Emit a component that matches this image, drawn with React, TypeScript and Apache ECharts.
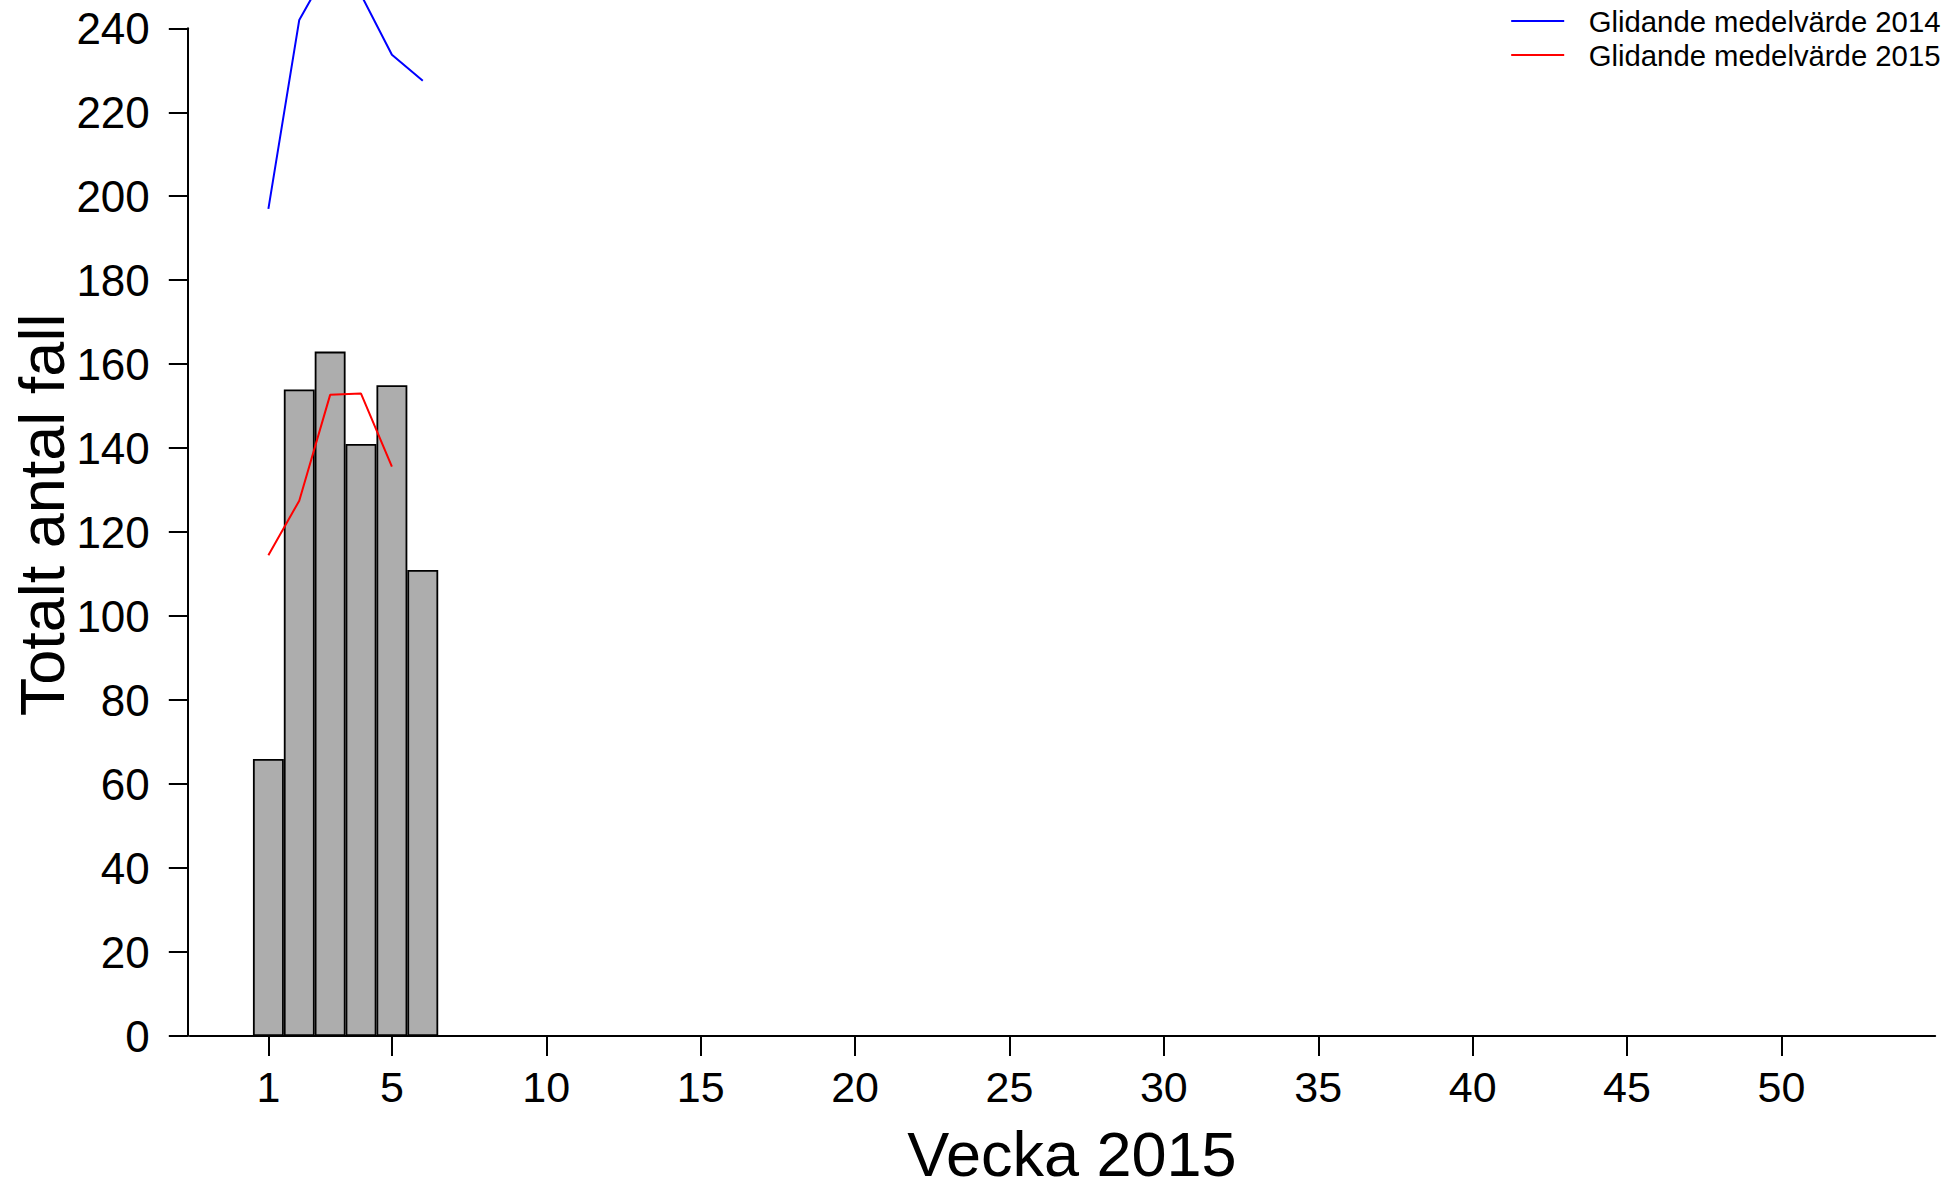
import React, { useEffect, useRef } from "react";
import * as echarts from "echarts";

const weeks = [1, 2, 3, 4, 5, 6];
const cases2015 = [66, 154, 163, 141, 155, 111];
const avgWeeks2014 = [1, 2, 3, 4, 5, 6];
const avg2014 = [197, 242, 255, 248, 233.7, 227.5];
const avgWeeks2015 = [1, 2, 3, 4, 5];
const avg2015 = [114.5, 127.5, 152.7, 153, 135.6];
const xTicks = [1, 5, 10, 15, 20, 25, 30, 35, 40, 45, 50, 55];
const xTickLabels = [1, 5, 10, 15, 20, 25, 30, 35, 40, 45, 50];
const seriesNames = ["Glidande medelvärde 2014", "Glidande medelvärde 2015"];
const xTitle = "Vecka 2015";
const yTitle = "Totalt antal fall";

const FONT = "'Liberation Sans', Arial, sans-serif";

export default function App() {
  const ref = useRef<HTMLDivElement>(null);
  useEffect(() => {
    document.body.style.margin = "0";
    const chart = echarts.init(ref.current!, null, { renderer: "svg" });
    chart.setOption({
      animation: false,
      backgroundColor: "#ffffff",
      grid: { left: 189.8, right: 20.8, top: 28.3, bottom: 153, containLabel: false },
      legend: {
        data: seriesNames,
        right: 10.5,
        top: -1,
        orient: "vertical",
        align: "left",
        icon: "rect",
        itemWidth: 53,
        itemHeight: 2,
        itemGap: 0,
        textStyle: {
          fontFamily: FONT,
          fontSize: 29.3,
          color: "#000",
          lineHeight: 34,
          padding: [0, 0, 0, 19.5],
        },
      },
      xAxis: {
        type: "value",
        min: -1.545,
        max: 54.98,
        splitLine: { show: false },
        axisLine: { show: true, onZero: false, lineStyle: { color: "#000", width: 2 } },
        axisTick: {
          show: true,
          customValues: xTicks,
          length: 20,
          lineStyle: { color: "#000", width: 2 },
        },
        axisLabel: {
          customValues: xTickLabels,
          fontFamily: FONT,
          fontSize: 43,
          color: "#000",
          margin: 29.5,
        },
      },
      yAxis: {
        type: "value",
        min: 0,
        max: 240,
        interval: 20,
        offset: 2,
        splitLine: { show: false },
        axisLine: { show: true, onZero: false, lineStyle: { color: "#000", width: 2 } },
        axisTick: { show: true, length: 19, lineStyle: { color: "#000", width: 2 } },
        axisLabel: { fontFamily: FONT, fontSize: 44, color: "#000", margin: 38 },
      },
      graphic: [
        {
          type: "text",
          x: 41.5,
          y: 515,
          rotation: Math.PI / 2,
          style: {
            text: yTitle,
            fontFamily: FONT,
            fontSize: 63,
            fill: "#000",
            align: "center",
            verticalAlign: "middle",
          },
        },
        {
          type: "text",
          x: 1072,
          y: 1154,
          style: {
            text: xTitle,
            fontFamily: FONT,
            fontSize: 63,
            lineHeight: 40,
            fill: "#000",
            align: "center",
            verticalAlign: "middle",
          },
        },
      ],
      series: [
        {
          type: "bar",
          name: "Fall 2015",
          data: weeks.map((w, i) => [w, cases2015[i]]),
          barWidth: 30.9,
          itemStyle: { color: "#ADADAD", borderColor: "#000", borderWidth: 1.8 },
        },
        {
          type: "line",
          name: seriesNames[0],
          data: avgWeeks2014.map((w, i) => [w, avg2014[i]]),
          color: "#0000FF",
          showSymbol: false,
          clip: false,
          lineStyle: { color: "#0000FF", width: 2 },
        },
        {
          type: "line",
          name: seriesNames[1],
          data: avgWeeks2015.map((w, i) => [w, avg2015[i]]),
          color: "#FF0000",
          showSymbol: false,
          clip: false,
          lineStyle: { color: "#FF0000", width: 2 },
        },
      ],
    });
    return () => chart.dispose();
  }, []);
  return <div ref={ref} style={{ width: 1956, height: 1189 }} />;
}
